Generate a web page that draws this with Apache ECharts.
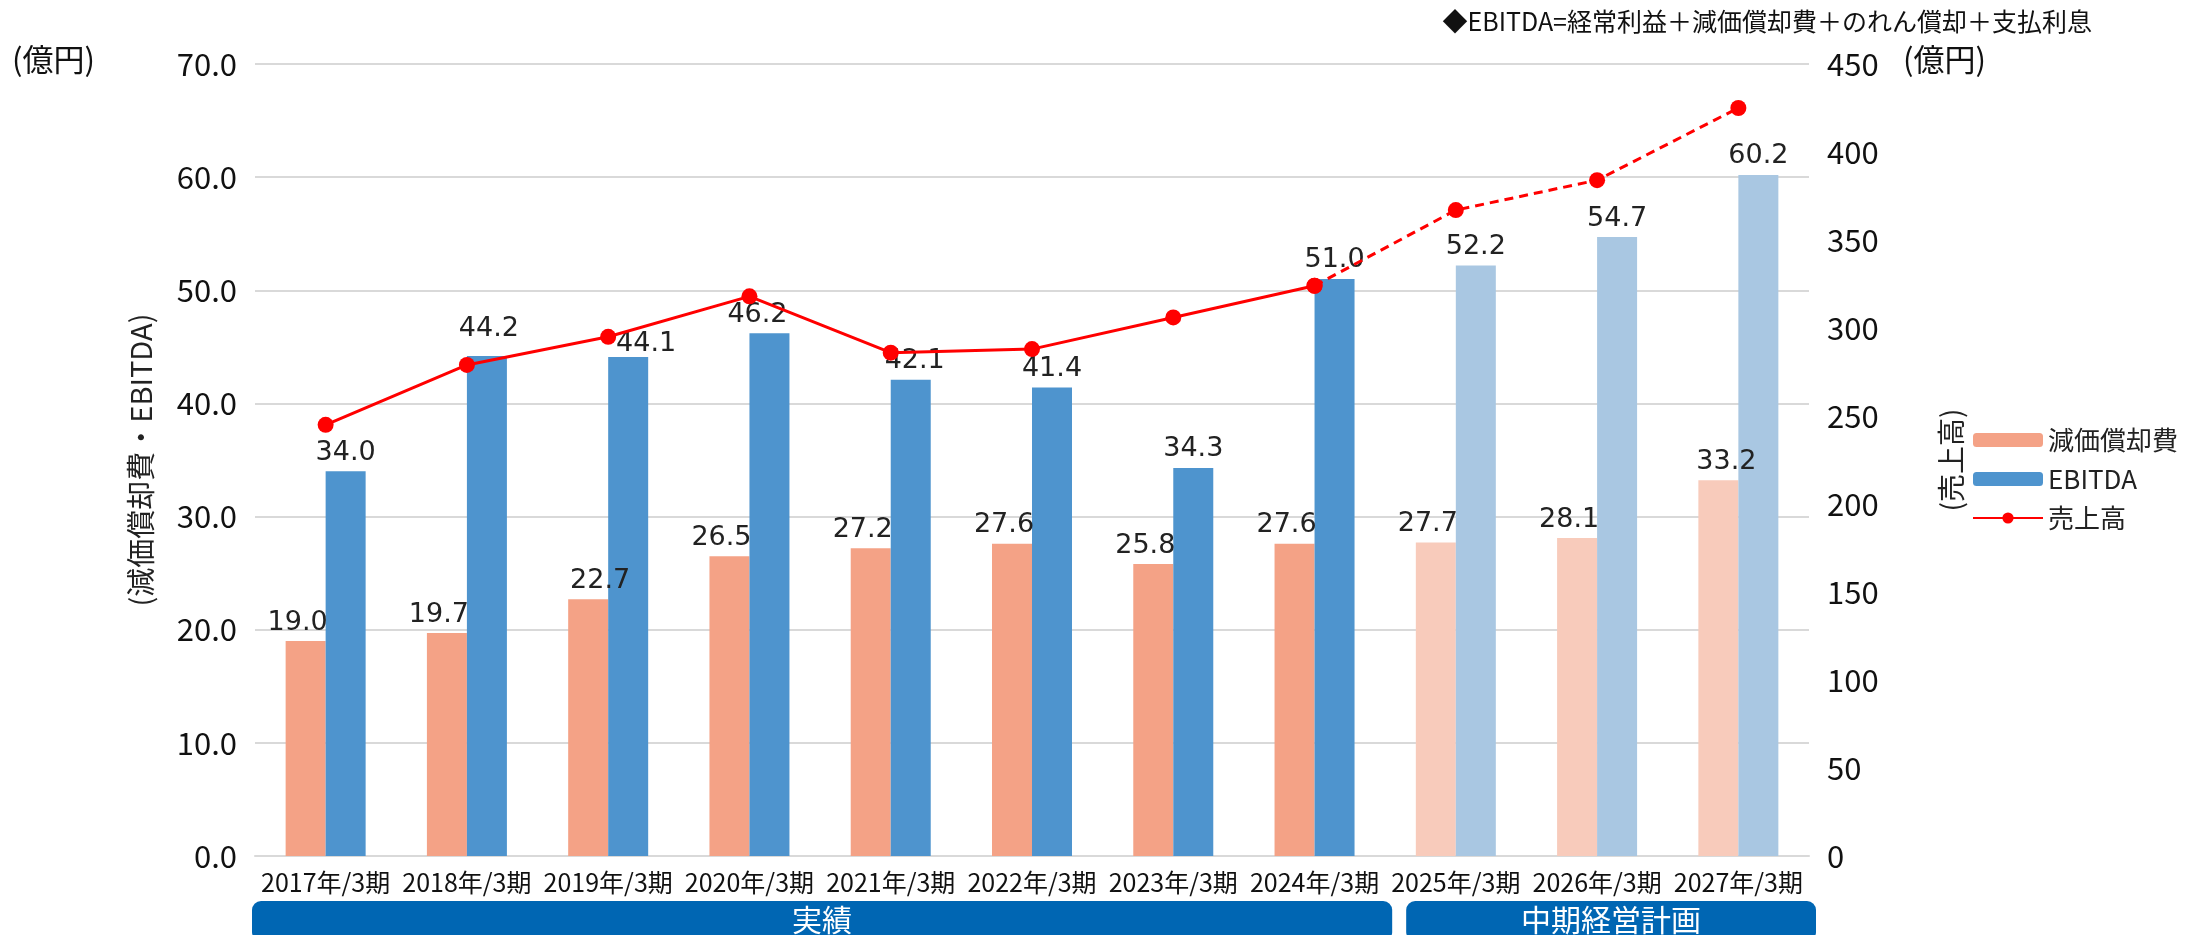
<!DOCTYPE html>
<html>
<head>
<meta charset="utf-8">
<script src="https://cdn.jsdelivr.net/npm/echarts@6/dist/echarts.min.js"></script>
<style>
  html, body { margin: 0; padding: 0; background: #fff; }
  #chart { width: 2187px; height: 935px; }
</style>
</head>
<body>
<div id="chart"></div>
<script>
var categories = ['2017年/3期', '2018年/3期', '2019年/3期', '2020年/3期', '2021年/3期', '2022年/3期',
    '2023年/3期', '2024年/3期', '2025年/3期', '2026年/3期', '2027年/3期'];
var depreciation = [19.0, 19.7, 22.7, 26.5, 27.2, 27.6, 25.8, 27.6, 27.7, 28.1, 33.2];  // 減価償却費
var ebitda = [34.0, 44.2, 44.1, 46.2, 42.1, 41.4, 34.3, 51.0, 52.2, 54.7, 60.2];
var sales = [245, 279, 295, 318, 286, 288, 306, 324, 367, 384, 425];  // 売上高
var lastActual = 7;  // 2024年/3期 is the last actual year, the rest is the plan
var leftTicks = [0, 70, 10];
var rightTicks = [0, 450, 50];

var font = '"Noto Sans CJK JP", "Noto Sans", sans-serif';
var numFont = '"DejaVu Sans", "Noto Sans", sans-serif';
var chartDom = document.getElementById('chart');
var myChart = echarts.init(chartDom);

// a few labels were nudged aside in the original so they clear the line
var ebitdaNudge = {1: [2, -8], 2: [18, 5], 3: [-12, 0], 4: [4, 0]};

// plan years get the pale colours
function colorize(values, dark, pale, nudge, dx) {
    return values.map(function (v, i) {
        var off = nudge[i] || [dx, 0];
        return {
            value: v,
            itemStyle: {color: i > lastActual ? pale : dark},
            label: {offset: off}
        };
    });
}

var labelStyle = {
    show: true,
    position: 'top',
    distance: 5,
    fontSize: 27,
    color: '#222',
    fontFamily: numFont,
    formatter: function (p) { return p.value.toFixed(1); }
};

var option = {
    animation: false,
    textStyle: {fontFamily: font},
    grid: {left: 255, right: 378, top: 64, bottom: 79},
    legend: {
        orient: 'vertical',
        left: 1967,
        top: 422,
        itemWidth: 70,
        itemHeight: 14,
        itemGap: 13,
        textStyle: {fontSize: 26, color: '#222', fontFamily: font},
        data: ['減価償却費', 'EBITDA', '売上高']
    },
    xAxis: {
        type: 'category',
        data: categories,
        axisLine: {lineStyle: {color: '#d9d9d9', width: 2}},
        axisTick: {show: false},
        axisLabel: {fontSize: 25, color: '#111', margin: 14, interval: 0}
    },
    yAxis: [
        {
            type: 'value',
            min: leftTicks[0], max: leftTicks[1], interval: leftTicks[2],
            name: '(減価償却費・EBITDA)',
            nameLocation: 'middle',
            nameRotate: 90,
            nameGap: 100,
            nameTextStyle: {fontSize: 29, color: '#222'},
            axisLabel: {fontSize: 31, color: '#111', margin: 18,
                formatter: function (v) { return v.toFixed(1); }},
            splitLine: {lineStyle: {color: '#d9d9d9', width: 2}},
            axisLine: {show: false},
            axisTick: {show: false}
        },
        {
            type: 'value',
            min: rightTicks[0], max: rightTicks[1], interval: rightTicks[2],
            name: '(売上高)',
            nameLocation: 'middle',
            nameRotate: 90,
            nameGap: 128,
            nameTextStyle: {fontSize: 28, color: '#222'},
            axisLabel: {fontSize: 31, color: '#111', margin: 18},
            splitLine: {show: false},
            axisLine: {show: false},
            axisTick: {show: false}
        }
    ],
    series: [
        {
            name: '減価償却費',
            type: 'bar',
            barWidth: 40,
            barGap: '0%',
            itemStyle: {color: '#F4A286'},
            label: labelStyle,
            data: colorize(depreciation, '#F4A286', '#F8CBBB', {2: [12, 0], 10: [8, 0]}, -8)
        },
        {
            name: 'EBITDA',
            type: 'bar',
            barWidth: 40,
            barGap: '0%',
            itemStyle: {color: '#4E94CE'},
            label: labelStyle,
            data: colorize(ebitda, '#4E94CE', '#A9C7E2', ebitdaNudge, 0)
        },
        {
            name: '売上高',
            type: 'line',
            yAxisIndex: 1,
            symbol: 'circle',
            symbolSize: 16,
            z: 5,
            itemStyle: {color: '#FF0000'},
            lineStyle: {color: '#FF0000', width: 3},
            data: sales.map(function (v, i) { return i <= lastActual ? v : '-'; })
        },
        {
            name: '売上高',
            type: 'line',
            yAxisIndex: 1,
            symbol: 'circle',
            symbolSize: 16,
            z: 5,
            itemStyle: {color: '#FF0000'},
            lineStyle: {color: '#FF0000', width: 3, type: [9, 6]},
            data: sales.map(function (v, i) { return i >= lastActual ? v : '-'; })
        }
    ]
};

option && myChart.setOption(option);

// unit labels, the note and the two period bands under the axis
var step = myChart.convertToPixel({xAxisIndex: 0}, categories[1]) - myChart.convertToPixel({xAxisIndex: 0}, categories[0]);
var firstX = myChart.convertToPixel({xAxisIndex: 0}, categories[0]) - step / 2;
var splitX = myChart.convertToPixel({xAxisIndex: 0}, categories[lastActual]) + step / 2;
var endX = myChart.convertToPixel({xAxisIndex: 0}, categories[categories.length - 1]) + step / 2;
var topY = myChart.convertToPixel({yAxisIndex: 0}, leftTicks[1]);

myChart.setOption({
    graphic: [
        {type: 'text', left: 12, top: topY - 20,
            style: {text: '(億円)', fontSize: 31, fill: '#111', fontFamily: font}},
        {type: 'text', left: 1903, top: topY - 20,
            style: {text: '(億円)', fontSize: 31, fill: '#111', fontFamily: font}},
        {type: 'text', right: 95, top: 9,
            style: {text: '◆EBITDA=経常利益＋減価償却費＋のれん償却＋支払利息', fontSize: 25, fill: '#111', fontFamily: font}},
        {type: 'rect', shape: {x: firstX - 3, y: 901, width: splitX - firstX + 10, height: 40, r: 9},
            style: {fill: '#0066B3'}},
        {type: 'rect', shape: {x: splitX + 21, y: 901, width: endX - splitX - 14, height: 40, r: 9},
            style: {fill: '#0066B3'}},
        {type: 'text', x: (firstX + splitX) / 2 + 2, y: 920,
            style: {text: '実績', fontSize: 30, fill: '#fff', fontFamily: font, align: 'center', verticalAlign: 'middle'}},
        {type: 'text', x: (splitX + endX) / 2 + 14, y: 920,
            style: {text: '中期経営計画', fontSize: 30, fill: '#fff', fontFamily: font, align: 'center', verticalAlign: 'middle'}}
    ]
});

window.addEventListener('resize', myChart.resize);
</script>
</body>
</html>
